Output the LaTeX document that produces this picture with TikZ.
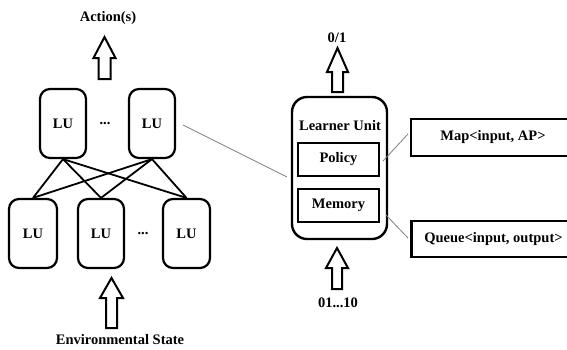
\documentclass[tikz,border=0pt]{standalone}
\usepackage{fontspec}
\setmainfont{Liberation Serif}
\begin{document}
\begin{tikzpicture}[x=1pt,y=-1pt,
  lbl/.style={font=\bfseries\fontsize{14.5}{16}\selectfont, inner sep=0pt},
  lubox/.style={draw, line width=2.2pt, rounded corners=10pt, minimum width=46pt, minimum height=69pt, lbl},
  inbox/.style={draw, line width=2.2pt, minimum width=81pt, minimum height=33pt, lbl},
  sidebox/.style={draw, line width=2.2pt, minimum width=164pt, minimum height=37pt, lbl},
  wire/.style={line width=1.8pt},
  thin/.style={draw=gray, line width=0.8pt},
  barrow/.style={draw, line width=2pt, fill=white, line join=miter}
]
\clip (0,0) rectangle (567,349);
\fill[white] (0,0) rectangle (567,349);
% block arrow: center x, tip y, head base y, bottom y, head half, shaft half
\newcommand{\blockarr}[6]{%
  \draw[barrow] (#1,#2) -- (#1+#5,#3) -- (#1+#6,#3) -- (#1+#6,#4) -- (#1-#6,#4) -- (#1-#6,#3) -- (#1-#5,#3) -- cycle;}

% left network
\node[lubox] (tl) at (63,123.5) {LU};
\node[lubox] (tr) at (152,123.5) {LU};
\node[lbl] (d1) at (105,124) {...};
\node[lubox, minimum width=48pt] (bl) at (33,233.5) {LU};
\node[lubox] (bm) at (101,233.5) {LU};
\node[lubox, minimum width=47pt] (br) at (186.5,233.5) {LU};
\node[lbl] (d2) at (143,234) {...};
\foreach \t in {tl,tr}{
  \foreach \b in {bl,bm,br}{
    \draw[wire] (\t.south) -- (\b.north);
  }
}
\node[lbl] (act) at (108,18) {Action(s)};
\node[lbl] (env) at (120,340) {Environmental State};
\blockarr{104.5}{37}{58}{79}{11}{6}
\blockarr{111.5}{278}{298}{328}{11.5}{5.5}

% learner unit
\node[draw, line width=2.4pt, rounded corners=15pt, minimum width=95pt, minimum height=142pt] (lu) at (339.5,168) {};
\node[lbl] (lut) at (340,126) {Learner Unit};
\node[inbox] (pol) at (338.5,159.5) {Policy};
\node[inbox] (mem) at (338.5,205.5) {Memory};
\node[lbl] (o1) at (337,38) {0/1};
\node[lbl] (i1) at (338,303) {01...10};
\blockarr{337.5}{48}{72}{92}{10.5}{5.5}
\blockarr{337}{248}{268}{289}{11}{5}

% side boxes
\node[sidebox] (map) at (493,137.5) {Map<input, AP>};
\node[sidebox, minimum height=36pt] (que) at (493.5,239) {Queue<input, output>};

% thin connectors
\coordinate (c1) at (183,125);
\coordinate (c2) at (287,177);
\coordinate (p1) at (383,161);
\coordinate (p2) at (408,134);
\coordinate (m1) at (386,215);
\coordinate (m2) at (408,238);
\draw[thin] (c1) -- (c2);
\draw[thin] (p1) -- (p2);
\draw[thin] (m1) -- (m2);
\end{tikzpicture}
\end{document}
